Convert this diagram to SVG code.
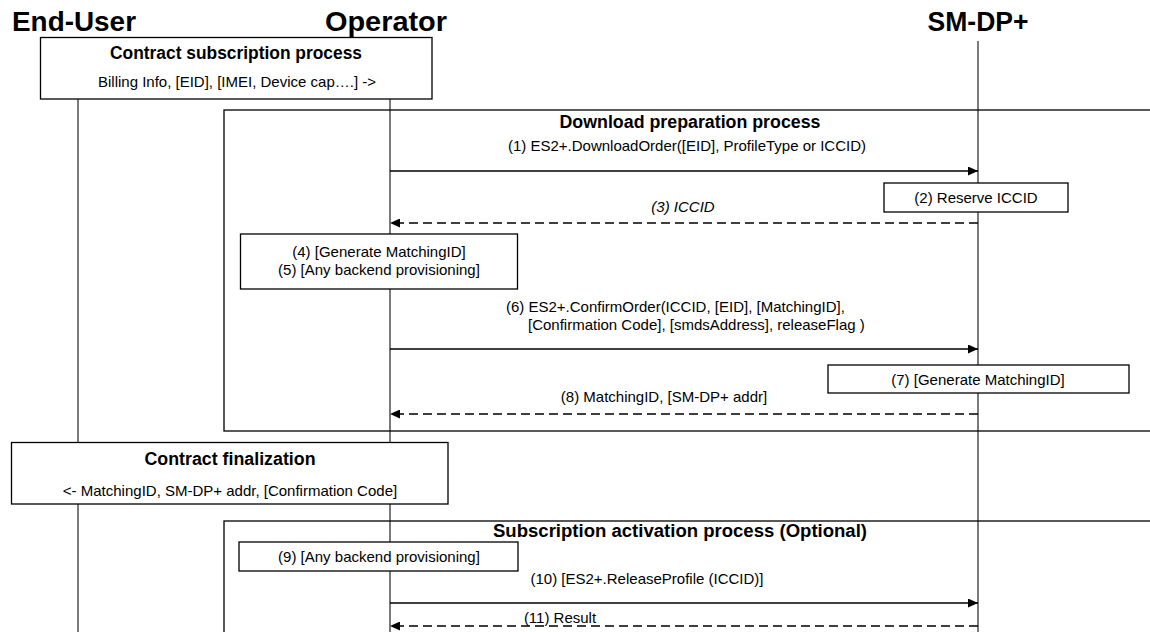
<svg xmlns="http://www.w3.org/2000/svg" width="1150" height="632" viewBox="0 0 1150 632">
<style>
.t{font-family:"Liberation Sans",Arial,sans-serif;font-size:15px;fill:#000}
.i{font-style:italic}
.b{font-family:"Liberation Sans",Arial,sans-serif;font-size:17.5px;font-weight:bold;fill:#000}
.h{font-family:"Liberation Sans",Arial,sans-serif;font-size:27px;font-weight:bold;fill:#000}
.life{stroke:#222;stroke-width:1.2;fill:none}
.box{stroke:#000;stroke-width:1.3;fill:#fff}
.frame{stroke:#000;stroke-width:1.3;fill:none}
.msg{stroke:#000;stroke-width:1.3;fill:none;marker-end:url(#ah)}
.ret{stroke:#000;stroke-width:1.3;fill:none;stroke-dasharray:9 5;marker-end:url(#ah)}
</style>
<defs>
<marker id="ah" markerUnits="userSpaceOnUse" markerWidth="11" markerHeight="9" refX="10" refY="4.5" orient="auto">
<path d="M0,0 L10,4.5 L0,9 z" fill="#000" stroke="none"/>
</marker>
</defs>
<rect width="1150" height="632" fill="#fff"/>

<g id="lifelines">
<line class="life" x1="78" y1="99" x2="78" y2="632"/>
<line class="life" x1="390" y1="99" x2="390" y2="632"/>
<line class="life" x1="978" y1="41" x2="978" y2="632"/>
</g>

<g id="participant-enduser"><text class="h" x="74" y="31" text-anchor="middle" textLength="124" lengthAdjust="spacingAndGlyphs">End-User</text></g>
<g id="participant-operator"><text class="h" x="386" y="31" text-anchor="middle" textLength="122" lengthAdjust="spacingAndGlyphs">Operator</text></g>
<g id="participant-smdp"><text class="h" x="978" y="31" text-anchor="middle" textLength="101" lengthAdjust="spacingAndGlyphs">SM-DP+</text></g>

<g id="download-preparation">
<rect class="frame" x="224" y="110" width="940" height="321"/>
<text class="b" x="690" y="128" text-anchor="middle" textLength="261" lengthAdjust="spacingAndGlyphs">Download preparation process</text>
</g>

<g id="subscription-activation">
<rect class="frame" x="224" y="521" width="940" height="130"/>
<text class="b" x="680" y="537" text-anchor="middle" textLength="374" lengthAdjust="spacingAndGlyphs">Subscription activation process (Optional)</text>
</g>

<g id="contract-subscription">
<rect class="box" x="40.5" y="37.5" width="391.5" height="61.5"/>
<text class="b" x="236" y="59" text-anchor="middle" textLength="252" lengthAdjust="spacingAndGlyphs">Contract subscription process</text>
<text class="t" x="237" y="87" text-anchor="middle">Billing Info, [EID], [IMEI, Device cap….] -&gt;</text>
</g>

<g id="reserve-iccid">
<rect class="box" x="884" y="183" width="184" height="29"/>
<text class="t" x="976" y="203" text-anchor="middle">(2) Reserve ICCID</text>
</g>

<g id="generate-matchingid-op">
<rect class="box" x="240.5" y="234" width="277" height="55"/>
<text class="t" x="379" y="257" text-anchor="middle">(4) [Generate MatchingID]</text>
<text class="t" x="379" y="275" text-anchor="middle">(5) [Any backend provisioning]</text>
</g>

<g id="generate-matchingid-dp">
<rect class="box" x="828" y="365" width="301" height="28"/>
<text class="t" x="978" y="385" text-anchor="middle">(7) [Generate MatchingID]</text>
</g>

<g id="contract-finalization">
<rect class="box" x="11.5" y="442.5" width="436.5" height="61.5"/>
<text class="b" x="230" y="465" text-anchor="middle" textLength="171" lengthAdjust="spacingAndGlyphs">Contract finalization</text>
<text class="t" x="230" y="496" text-anchor="middle">&lt;- MatchingID, SM-DP+ addr, [Confirmation Code]</text>
</g>

<g id="backend-provisioning">
<rect class="box" x="239" y="542" width="279" height="29"/>
<text class="t" x="379" y="562" text-anchor="middle">(9) [Any backend provisioning]</text>
</g>

<g id="connectors">
<line class="msg" x1="390" y1="171" x2="978" y2="171"/>
<line class="ret" x1="978" y1="223" x2="390" y2="223"/>
<line class="msg" x1="390" y1="349" x2="978" y2="349"/>
<line class="ret" x1="978" y1="414" x2="390" y2="414"/>
<line class="msg" x1="390" y1="603" x2="978" y2="603"/>
<line class="ret" x1="978" y1="626" x2="390" y2="626"/>
<text class="t" x="687" y="151" text-anchor="middle">(1) ES2+.DownloadOrder([EID], ProfileType or ICCID)</text>
<text class="t i" x="683" y="212" text-anchor="middle">(3) ICCID</text>
<text class="t" x="506" y="312">(6) ES2+.ConfirmOrder(ICCID, [EID], [MatchingID],</text>
<text class="t" x="528" y="330">[Confirmation Code], [smdsAddress], releaseFlag )</text>
<text class="t" x="664" y="402" text-anchor="middle">(8) MatchingID, [SM-DP+ addr]</text>
<text class="t" x="647" y="584" text-anchor="middle">(10) [ES2+.ReleaseProfile (ICCID)]</text>
<text class="t" x="560" y="623" text-anchor="middle">(11) Result</text>
</g>
</svg>
